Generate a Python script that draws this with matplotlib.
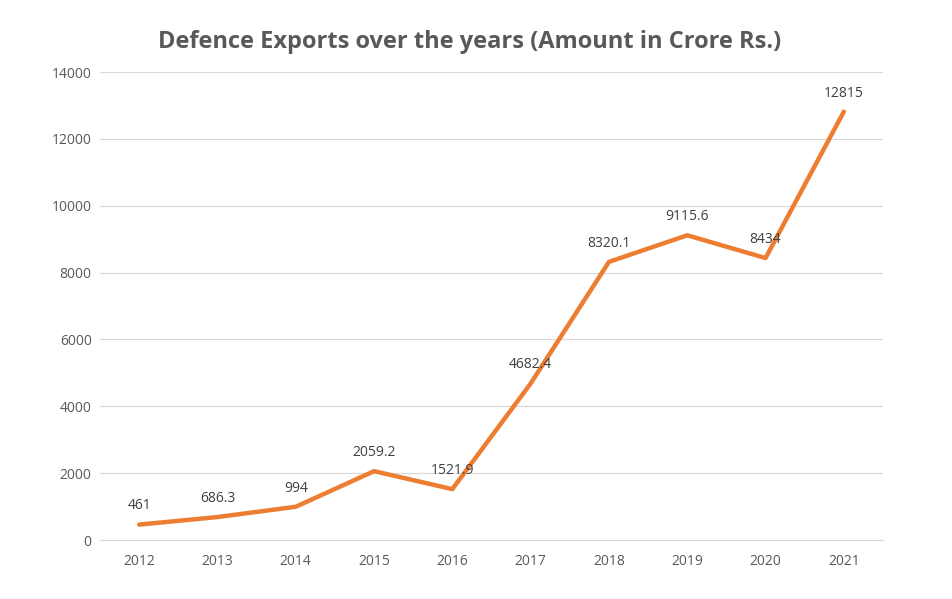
import matplotlib
matplotlib.use("Agg")
import matplotlib.pyplot as plt

years = ["2012", "2013", "2014", "2015", "2016", "2017", "2018", "2019", "2020", "2021"]
exports = [461, 686.3, 994, 2059.2, 1521.9, 4682.4, 8320.1, 9115.6, 8434, 12815]
labels = ["461", "686.3", "994", "2059.2", "1521.9", "4682.4", "8320.1", "9115.6", "8434", "12815"]
yticks = [0, 2000, 4000, 6000, 8000, 10000, 12000, 14000]

plt.rcParams['font.family'] = ['Open Sans', 'DejaVu Sans']

fig = plt.figure(figsize=(9.52, 5.99), dpi=100)
ax = fig.add_axes([100/952, 59/599, 783/952, 468/599])

x = list(range(len(years)))
ax.plot(x, exports, color="#ED7D31", linewidth=3.2, solid_capstyle="round", solid_joinstyle="round", zorder=3)
for xi, v, lab in zip(x, exports, labels):
    ax.annotate(lab, (xi, v), xytext=(0, 8), textcoords="offset points",
                ha="center", va="bottom", fontsize=10, color="#404040", zorder=4)

ax.set_xlim(-0.5, len(years) - 0.5)
ax.set_ylim(0, 14000)
ax.set_yticks(yticks)
ax.set_yticklabels([str(t) for t in yticks])
ax.set_xticks(x)
ax.set_xticklabels(years)
ax.grid(axis="y", color="#D9D9D9", linewidth=0.8)
ax.set_axisbelow(True)
for s in ["top", "right", "left"]:
    ax.spines[s].set_visible(False)
ax.spines["bottom"].set_color("#D9D9D9")
ax.spines["bottom"].set_linewidth(0.8)
ax.tick_params(axis="both", length=0, colors="#595959", labelsize=10)
ax.tick_params(axis="x", pad=10)
ax.tick_params(axis="y", pad=6)

fig.text(470/952, 1 - 42/599, "Defence Exports over the years (Amount in Crore Rs.)",
         ha="center", va="center", fontsize=17, fontweight="bold", color="#595959")

fig.savefig("out.png", dpi=100, facecolor="white")
